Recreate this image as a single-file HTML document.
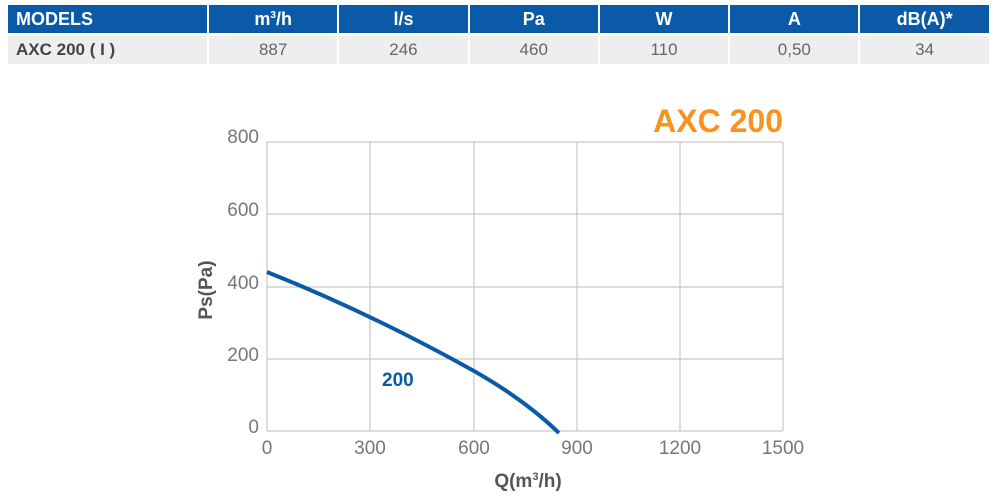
<!DOCTYPE html><html><head><style>
body{margin:0;width:1000px;height:500px;background:#fff;position:relative;font-family:"Liberation Sans",sans-serif;overflow:hidden}
table{position:absolute;left:8px;top:5px;border-collapse:collapse;table-layout:fixed;width:982px}
td{height:28px;padding:0;text-align:center;border-right:2px solid #fff;font-size:17px}
tr.h td{background:#0b5aa7;color:#fff;font-weight:bold;font-size:18px;border-bottom:3px solid #fff}
tr.r td{background:#eeeeee;color:#666}
td.f{text-align:left;padding-left:8px}
tr.r td.f{color:#444;font-weight:bold}
</style></head><body>
<table><colgroup><col style="width:200px"><col span="6" style="width:130.3px"></colgroup>
<tr class="h"><td class="f">MODELS</td><td>m<sup style="font-size:10px">3</sup>/h</td><td>l/s</td><td>Pa</td><td>W</td><td>A</td><td>dB(A)*</td></tr>
<tr class="r"><td class="f">AXC 200 ( I )</td><td>887</td><td>246</td><td>460</td><td>110</td><td>0,50</td><td>34</td></tr>
</table>
<svg width="1000" height="500" style="position:absolute;left:0;top:0">
<g stroke="#bbb" stroke-width="1">
<line x1="267" y1="142" x2="783" y2="142"/><line x1="267" y1="214" x2="783" y2="214"/><line x1="267" y1="287" x2="783" y2="287"/><line x1="267" y1="359" x2="783" y2="359"/><line x1="267" y1="431" x2="783" y2="431"/>
<line x1="267" y1="142" x2="267" y2="431"/><line x1="370" y1="142" x2="370" y2="431"/><line x1="474" y1="142" x2="474" y2="431"/><line x1="577" y1="142" x2="577" y2="431"/><line x1="680" y1="142" x2="680" y2="431"/><line x1="783" y1="142" x2="783" y2="431"/>
</g>
<g font-size="19" fill="#777" text-anchor="end">
<text x="259" y="143">800</text><text x="259" y="216">600</text><text x="259" y="289">400</text><text x="259" y="361">200</text><text x="259" y="433">0</text></g>
<g font-size="19" fill="#777" text-anchor="middle">
<text x="267" y="454">0</text><text x="370" y="454">300</text><text x="474" y="454">600</text><text x="577" y="454">900</text><text x="680" y="454">1200</text><text x="783" y="454">1500</text></g>
<text x="528" y="487" font-size="19" font-weight="bold" fill="#555" text-anchor="middle">Q(m<tspan font-size="11" dy="-7">3</tspan><tspan dy="7">/h)</tspan></text>
<text transform="translate(212,290) rotate(-90)" font-size="19" font-weight="bold" fill="#555" text-anchor="middle">Ps(Pa)</text>
<text x="783" y="132" font-size="32" font-weight="bold" fill="#f7931e" text-anchor="end">AXC 200</text>
<path d="M267,272 Q370,313 474,371 Q525,400 559,433" fill="none" stroke="#0b5aa7" stroke-width="4"/>
<text x="382" y="386" font-size="19" font-weight="bold" fill="#0b5aa7">200</text>
</svg>
</body></html>
